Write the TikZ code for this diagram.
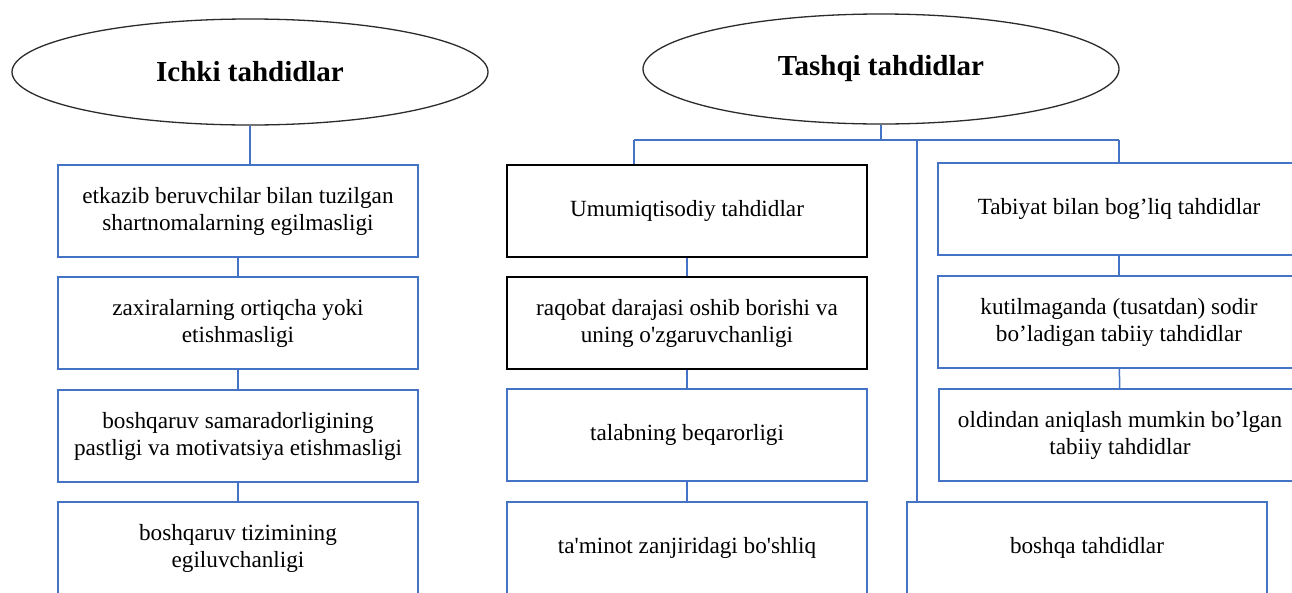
\documentclass[tikz,border=0pt]{standalone}
\usepackage{fontspec}
\setmainfont{Liberation Serif}
\usetikzlibrary{shapes.geometric}
\definecolor{lnblue}{HTML}{4472C4}
\definecolor{elgray}{HTML}{2B2B2B}

\begin{document}
\begin{tikzpicture}[
  x=1pt, y=-1pt,
  every node/.style={font=\rmfamily\fontsize{23.2}{27}\selectfont},
  headnode/.style={ellipse, draw=elgray, line width=1.3pt, minimum width=476pt, minimum height=106pt, inner sep=0pt, font=\rmfamily\fontsize{29}{32}\selectfont\bfseries},
  bluebox/.style={rectangle, draw=lnblue, line width=1.5pt, minimum width=360pt, minimum height=92pt, align=center, inner sep=0pt},
  blackbox/.style={bluebox, draw=black, line width=2pt},
  conn/.style={draw=lnblue, line width=1.5pt},
]
\useasboundingbox (0,0) rectangle (1292,592);
\clip (0,0) rectangle (1292,592);
\fill[white] (0,0) rectangle (1292,592);

% Left side: internal threats
\node[headnode] (ichki) at (250, 72) {Ichki tahdidlar};

\node[bluebox] (e1) at (238, 211) {etkazib beruvchilar bilan tuzilgan\\shartnomalarning egilmasligi};
\node[bluebox] (e2) at (238, 323) {zaxiralarning ortiqcha yoki\\etishmasligi};
\node[bluebox] (e3) at (238, 436) {boshqaruv samaradorligining\\pastligi va motivatsiya etishmasligi};
\node[bluebox] (e4) at (238, 548) {boshqaruv tizimining\\egiluvchanligi};

\draw[conn] (ichki.south) -- (ichki.south |- e1.north);
\draw[conn] (e1) -- (e2);
\draw[conn] (e2) -- (e3);
\draw[conn] (e3) -- (e4);

% Right side: external threats
\node[headnode, minimum height=110pt] (tashqi) at (881, 69) {Tashqi tahdidlar};

\node[blackbox] (u1) at (687, 211) {Umumiqtisodiy tahdidlar};
\node[blackbox] (u2) at (687, 323) {raqobat darajasi oshib borishi va\\uning o\textquotesingle zgaruvchanligi};
\node[bluebox] (u3) at (687, 435) {talabning beqarorligi};
\node[bluebox] (u4) at (687, 548) {ta\textquotesingle minot zanjiridagi bo\textquotesingle shliq};

\node[bluebox, minimum width=362pt] (t1) at (1119, 209) {Tabiyat bilan bog’liq  tahdidlar};
\node[bluebox, minimum width=362pt] (t2) at (1119, 322) {kutilmaganda (tusatdan) sodir\\bo’ladigan  tabiiy tahdidlar};
\node[bluebox, minimum width=362pt] (t3) at (1120, 435) {oldindan aniqlash mumkin bo’lgan\\tabiiy tahdidlar};

\node[bluebox] (bq) at (1087, 548) {boshqa tahdidlar};

\coordinate (hl) at (634, 140);
\coordinate (hm) at (917, 140);
\coordinate (hr) at (1119, 140);

\draw[conn] (tashqi.south) -- (tashqi.south |- hl);
\draw[conn] (hl) -- (hr);
\draw[conn] (hl) -- (hl |- u1.north);
\draw[conn] (hm) -- (hm |- bq.north);
\draw[conn] (hr) -- (hr |- t1.north);
\draw[conn] (u1) -- (u2);
\draw[conn] (u2) -- (u3);
\draw[conn] (u3) -- (u4);
\draw[conn] (t1) -- (t2);
\draw[conn] (t2) -- (t3);

\end{tikzpicture}
\end{document}
